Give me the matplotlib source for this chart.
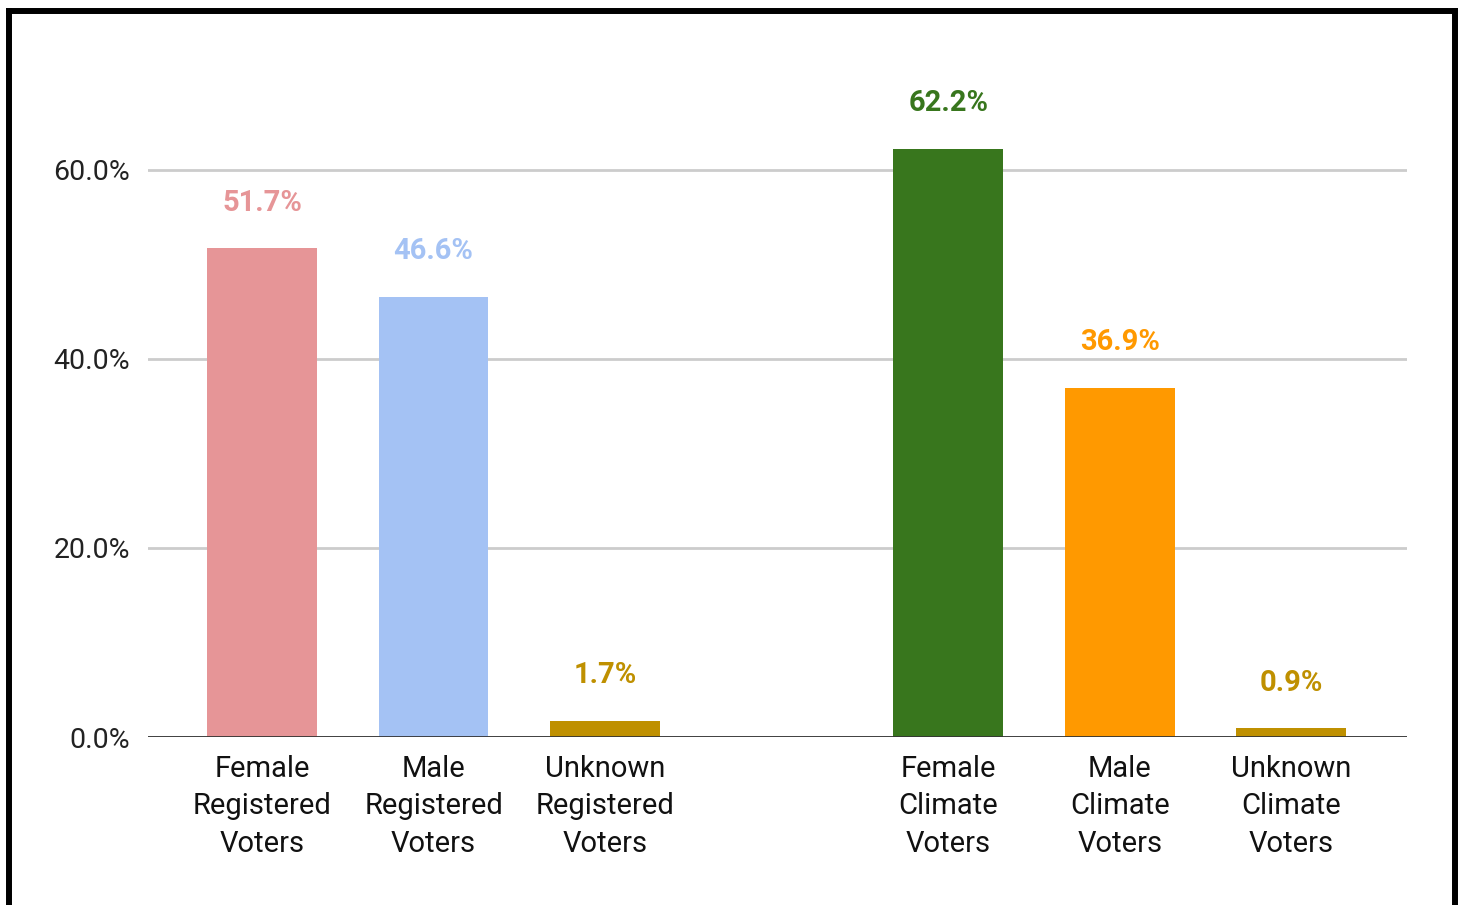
import matplotlib.pyplot as plt
from matplotlib.lines import Line2D
from matplotlib.ticker import FuncFormatter

plt.rcParams["font.family"] = ["Roboto", "DejaVu Sans"]

# data
categories = [
    "Female\nRegistered\nVoters",
    "Male\nRegistered\nVoters",
    "Unknown\nRegistered\nVoters",
    "Female\nClimate\nVoters",
    "Male\nClimate\nVoters",
    "Unknown\nClimate\nVoters",
]
shares = [51.7, 46.6, 1.7, 62.2, 36.9, 0.9]
positions = [0, 1, 2, 4, 5, 6]  # gap between the two groups
colors = ["#e69597", "#a4c2f4", "#bf9000", "#38761d", "#ff9900", "#bf9000"]
y_ticks = [0, 20, 40, 60]

W, H = 1464, 905
fig = plt.figure(figsize=(W / 100, H / 100), dpi=100)
ax = fig.add_axes([148 / W, 1 - 737 / H, (1407 - 148) / W, (737 - 75.5) / H])

ax.bar(positions, shares, width=0.64, color=colors, zorder=3)

for x, v, c in zip(positions, shares, colors):
    ax.annotate(f"{v:.1f}%", (x, v), xytext=(0, 33), textcoords="offset points",
                ha="center", va="center", color=c, fontsize=21, fontweight="bold")

ax.set_xlim(-0.665, 6.675)
ax.set_ylim(0, 70)
ax.set_yticks(y_ticks)
ax.yaxis.set_major_formatter(FuncFormatter(lambda v, _: f"{v:.1f}%"))
ax.set_xticks(positions)
ax.set_xticklabels(categories, fontsize=21, linespacing=1.42)
ax.tick_params(axis="y", labelsize=20.5, length=0, pad=13, colors="#222222")
ax.tick_params(axis="x", length=0, pad=13, colors="#111111")

ax.grid(axis="y", color="#cccccc", linewidth=2, zorder=0)
for s in ax.spines.values():
    s.set_visible(False)
ax.axhline(0, color="#333333", linewidth=2, zorder=4)

# black frame around the chart
def fx(px):
    return px / W

def fy(py):
    return 1 - py / H

frame = dict(color="black", linewidth=4.3, transform=fig.transFigure, solid_capstyle="projecting")
fig.add_artist(Line2D([fx(9), fx(1454.5)], [fy(11.5), fy(11.5)], **frame))
fig.add_artist(Line2D([fx(9), fx(9)], [fy(11.5), fy(910)], **frame))
fig.add_artist(Line2D([fx(1454.5), fx(1454.5)], [fy(11.5), fy(910)], **frame))

fig.savefig("out.png", dpi=100)
